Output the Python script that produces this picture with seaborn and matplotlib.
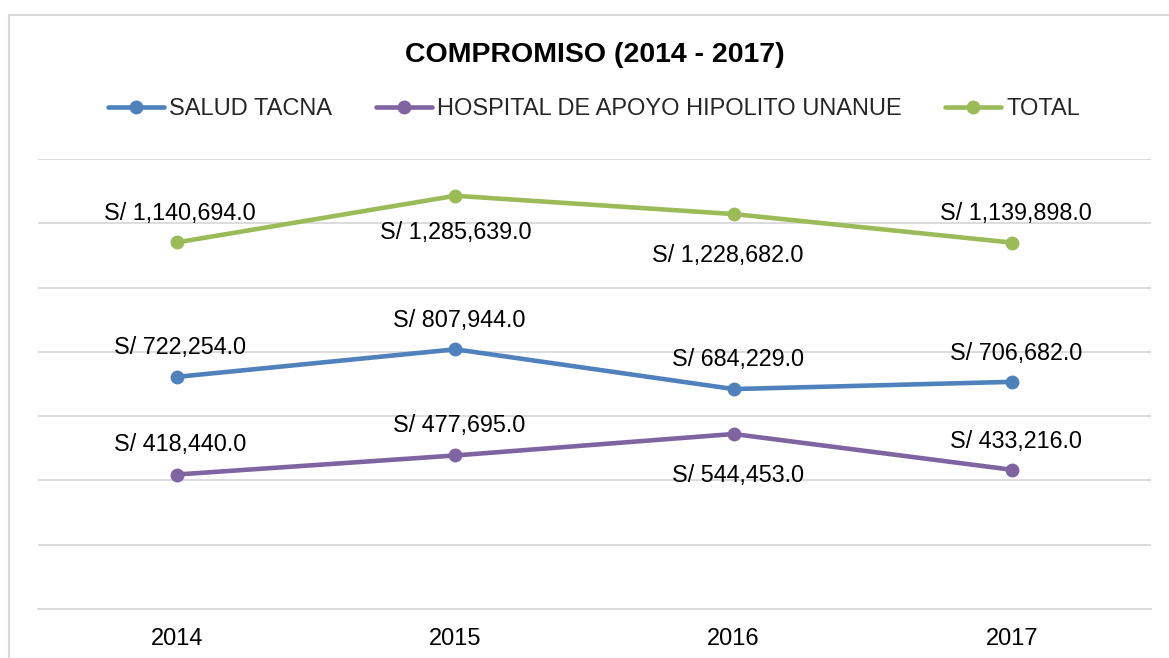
import matplotlib
matplotlib.use("Agg")
import matplotlib.pyplot as plt
import matplotlib.patches as mpatches
import seaborn as sns
import pandas as pd

# ---- data ----
years = ["2014", "2015", "2016", "2017"]
series_names = ["SALUD TACNA", "HOSPITAL DE APOYO HIPOLITO UNANUE", "TOTAL"]
salud_tacna = [722254.0, 807944.0, 684229.0, 706682.0]
hospital = [418440.0, 477695.0, 544453.0, 433216.0]
total = [1140694.0, 1285639.0, 1228682.0, 1139898.0]
title = "COMPROMISO (2014 - 2017)"

# ---- style ----
colors = ["#4F81BD", "#8064A2", "#9BBB59"]
# label offsets (pixels, dx right, dy up to text centre)
label_dx = [[3, 3.5, 4.5, 4.5], [3.5, 4, 4, 4.5], [3, 0.5, -5.5, 4]]
label_dy = [[31, 30.5, 31, 30], [32, 32, -40, 30], [31, -34.5, -39.5, 31]]

rows = []
for name, vals in zip(series_names, [salud_tacna, hospital, total]):
    for i, (yr, v) in enumerate(zip(years, vals)):
        rows.append({"year": yr, "pos": i, "value": v, "serie": name})
df = pd.DataFrame(rows)

sns.set_theme(style="white")
plt.rcParams["font.family"] = ["Liberation Sans", "DejaVu Sans"]

W, H = 1169, 658
fig = plt.figure(figsize=(W / 100, H / 100), dpi=100)
ax = fig.add_axes([38 / W, 1 - 609 / H, (1151 - 38) / W, (609 - 159) / H])

sns.lineplot(data=df, x="pos", y="value", hue="serie", hue_order=series_names,
             palette=colors, marker="o", markersize=10, markeredgewidth=0,
             linewidth=3.3, ax=ax, legend=False, sort=True)

ax.set_xlim(-0.5, 3.5)
ax.set_ylim(0, 1400000)
ax.set_yticks(range(0, 1400001, 200000))
ax.set_yticklabels([])
ax.set_xticks(range(len(years)))
ax.set_xticklabels(years, fontsize=17, color="#000000")
ax.tick_params(axis="x", length=0, pad=13.5)
ax.tick_params(axis="y", length=0)
ax.set_xlabel("")
ax.set_ylabel("")
ax.grid(axis="y", color="#D9D9D9", linewidth=1.3)
ax.grid(axis="x", visible=False)
for s in ["top", "left", "right"]:
    ax.spines[s].set_visible(False)
ax.spines["bottom"].set_color("#D9D9D9")
ax.spines["bottom"].set_linewidth(1.3)

fs_lab = 16.8
half_cap = 0.716 * fs_lab * 100 / 72 / 2
for si, vals in enumerate([salud_tacna, hospital, total]):
    for i, v in enumerate(vals):
        ax.annotate(f"S/ {v:,.1f}", xy=(i, v),
                    xytext=(label_dx[si][i], label_dy[si][i] - half_cap),
                    textcoords="offset pixels", ha="center", va="baseline",
                    fontsize=fs_lab, color="#000000")

fig.text(595 / W, 1 - 62 / H, title, ha="center", va="baseline",
         fontsize=20.5, fontweight="bold", color="#000000")

handles = ax.get_lines()[:3]
leg = fig.legend(handles, series_names, loc="center", ncol=3,
                 bbox_to_anchor=(594 / W, 1 - 109 / H), frameon=False,
                 fontsize=17, handlelength=2.37, handletextpad=0.21,
                 columnspacing=1.86, borderaxespad=0, borderpad=0)

rect = mpatches.Rectangle((8.5 / W, -0.1), 2, 1 - 14.5 / H + 0.1,
                          transform=fig.transFigure, fill=False,
                          edgecolor="#D9D9D9", linewidth=1.5, clip_on=False)
fig.patches.append(rect)

fig.savefig("out.png", dpi=100, facecolor="white")
